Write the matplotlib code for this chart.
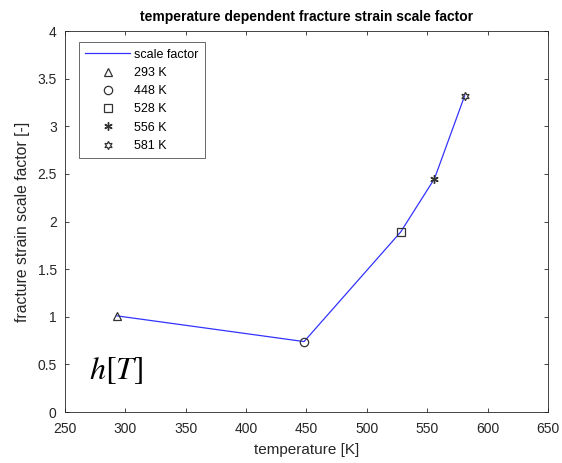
import matplotlib
matplotlib.use('Agg')
import matplotlib.pyplot as plt
import numpy as np

# temperature [K] and fracture strain scale factor
temps = [293, 448, 528, 556, 581]
scale = [1.01, 0.74, 1.89, 2.45, 3.32]
markers = ['^', 'o', 's', (6, 2, 0), (6, 1, 0)]
labels = ['%d K' % t for t in temps]

plt.rcParams['font.family'] = ['Liberation Sans', 'DejaVu Sans']
plt.rcParams['mathtext.fontset'] = 'stix'
plt.rcParams['xtick.direction'] = 'in'
plt.rcParams['ytick.direction'] = 'in'

fig = plt.figure(figsize=(5.62, 4.63), dpi=100)
ax = fig.add_axes([0.1157, 0.110, 0.8593, 0.823])

ax.plot(temps, scale, color=(0, 0, 1), lw=0.9, alpha=0.8, label='scale factor')
for t, s, m, lab in zip(temps, scale, markers, labels):
    ax.plot(t, s, linestyle='none', marker=m, ms=6, mfc='none',
            mec='0.2', mew=1.0 if m == (6, 2, 0) else 0.9, label=lab)

ax.text(270, 0.35, r'$h[T]$', fontsize=23)

ax.set_xlim(250, 650)
ax.set_ylim(0, 4)
ax.set_xticks(np.arange(250, 651, 50))
ax.set_yticks(np.arange(0, 4.01, 0.5))
ax.set_yticklabels(['0', '0.5', '1', '1.5', '2', '2.5', '3', '3.5', '4'])
ax.tick_params(labelsize=10, colors='0.15', length=3, width=0.6, top=True, right=True)
ax.tick_params(axis='x', pad=7)
ax.tick_params(axis='y', pad=6)
for sp in ax.spines.values():
    sp.set_linewidth(0.6)
    sp.set_color('0.15')
ax.set_xlabel('temperature [K]', fontsize=11, color='0.15', labelpad=5)
ax.set_ylabel('fracture strain scale factor [-]', fontsize=11.3, color='0.15', labelpad=5)
ax.set_title('temperature dependent fracture strain scale factor', fontsize=10,
             weight='bold', pad=7)

leg = ax.legend(loc='upper left', fontsize=9, handlelength=3.6, borderpad=0.5,
                labelspacing=0.5, handletextpad=0.3, fancybox=False,
                bbox_to_anchor=(0.029, 0.97), borderaxespad=0)
leg.get_frame().set_edgecolor('0.15')
leg.get_frame().set_linewidth(0.6)

fig.savefig('out.png', dpi=100)
